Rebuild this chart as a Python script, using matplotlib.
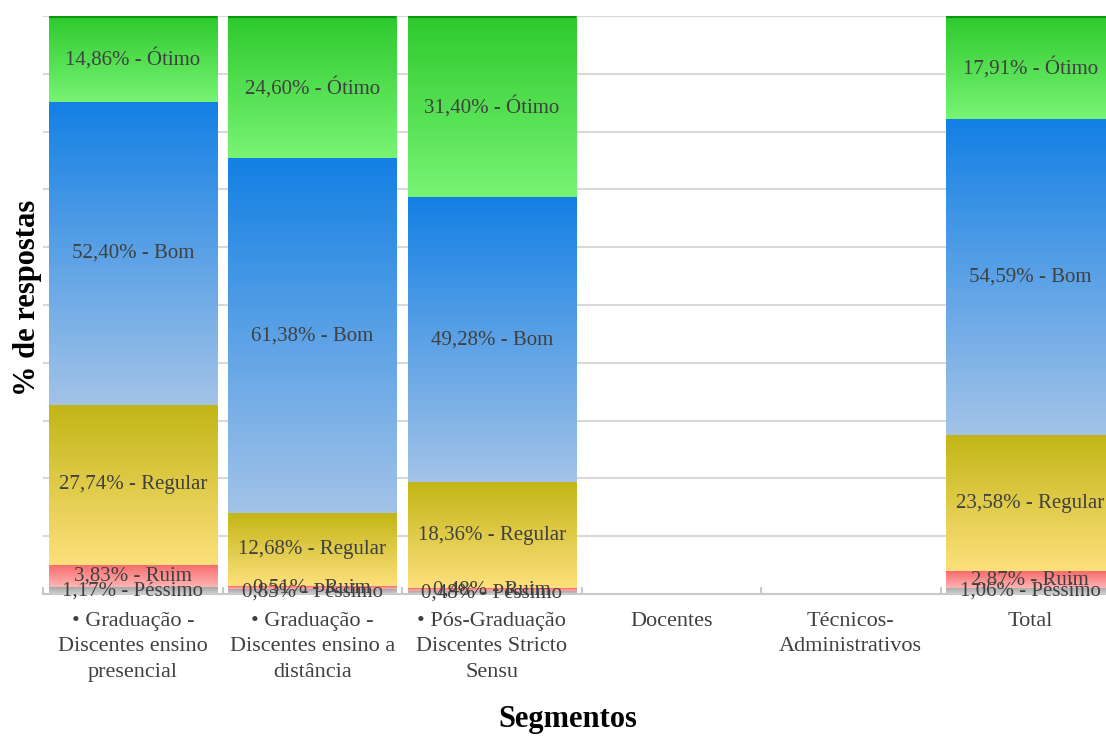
import numpy as np
import matplotlib
matplotlib.use("Agg")
import matplotlib.pyplot as plt
from matplotlib.colors import LinearSegmentedColormap

plt.rcParams['font.family'] = ['Liberation Serif', 'DejaVu Serif']

# data
categories = ["• Graduação -\nDiscentes ensino\npresencial",
              "• Graduação -\nDiscentes ensino a\ndistância",
              "• Pós-Graduação\nDiscentes Stricto\nSensu",
              "Docentes",
              "Técnicos-\nAdministrativos",
              "Total"]
levels = ["Péssimo", "Ruim", "Regular", "Bom", "Ótimo"]
pessimo = [1.17, 0.83, 0.48, 0, 0, 1.06]
ruim = [3.83, 0.51, 0.48, 0, 0, 2.87]
regular = [27.74, 12.68, 18.36, 0, 0, 23.58]
bom = [52.40, 61.38, 49.28, 0, 0, 54.59]
otimo = [14.86, 24.60, 31.40, 0, 0, 17.91]
series = [pessimo, ruim, regular, bom, otimo]

# gradient colours (bottom, top) for each level
grad = {
    "Péssimo": ("#cfcfcf", "#a6a6a6"),
    "Ruim": ("#ffb4b4", "#f76a6a"),
    "Regular": ("#fde07c", "#c2b515"),
    "Bom": ("#a3c3e8", "#1380e4"),
    "Ótimo": ("#78f474", "#2dc92d"),
}

fig = plt.figure(figsize=(11.06, 7.36), dpi=100)
ax = fig.add_axes([43 / 1106, 142 / 736, 1077 / 1106, 578 / 736])

n = len(categories)
x = np.arange(n)
width = 0.936
ax.set_xlim(-0.5, n - 0.5)
ax.set_ylim(0, 100)

for y in range(10, 101, 10):
    ax.axhline(y, color="#d9d9d9", lw=1.5, zorder=0)

gy = np.linspace(0, 1, 256).reshape(-1, 1)
bottoms = np.zeros(n)
for name, vals in zip(levels, series):
    cmap = LinearSegmentedColormap.from_list(name, grad[name])
    for i in range(n):
        v = vals[i]
        if v <= 0:
            continue
        b = bottoms[i]
        ax.imshow(gy, cmap=cmap, origin="lower", aspect="auto",
                  extent=[x[i] - width / 2, x[i] + width / 2, b, b + v],
                  zorder=2, interpolation="bilinear")
        ax.text(x[i], b + v / 2, f"{v:.2f}".replace(".", ",") + f"% - {name}",
                ha="center", va="center", fontsize=15, color="#404040", zorder=4)
        bottoms[i] += v

# dark green edge on top of each bar
for i in range(n):
    if bottoms[i] > 0:
        ax.plot([x[i] - width / 2, x[i] + width / 2], [bottoms[i], bottoms[i]],
                color="#0a990a", lw=3, zorder=3, solid_capstyle="butt")

ax.set_xlim(-0.5, n - 0.5)
ax.set_ylim(0, 100)

for s in ["top", "right", "left"]:
    ax.spines[s].set_visible(False)
ax.spines["bottom"].set_color("#c8c8c8")
ax.spines["bottom"].set_linewidth(1.5)
ax.spines["bottom"].set_zorder(1)
ax.set_yticks([])

ax.set_xticks(x)
ax.set_xticklabels(categories, fontsize=16, color="#404040", linespacing=1.45)
ax.tick_params(axis="x", length=0, pad=13)
ax.set_xticks(np.arange(-0.5, n, 1), minor=True)
ax.tick_params(axis="x", which="minor", length=5, direction="in",
               color="#c8c8c8", width=1.5)

fig.text(568 / 1106, 1 - 720 / 736, "Segmentos", ha="center", va="center",
         fontsize=22, fontweight="bold")
fig.text(28 / 1106, 1 - 298 / 736, "% de respostas", ha="center", va="center",
         rotation=90, fontsize=22, fontweight="bold")

fig.savefig("out.png", dpi=100)
